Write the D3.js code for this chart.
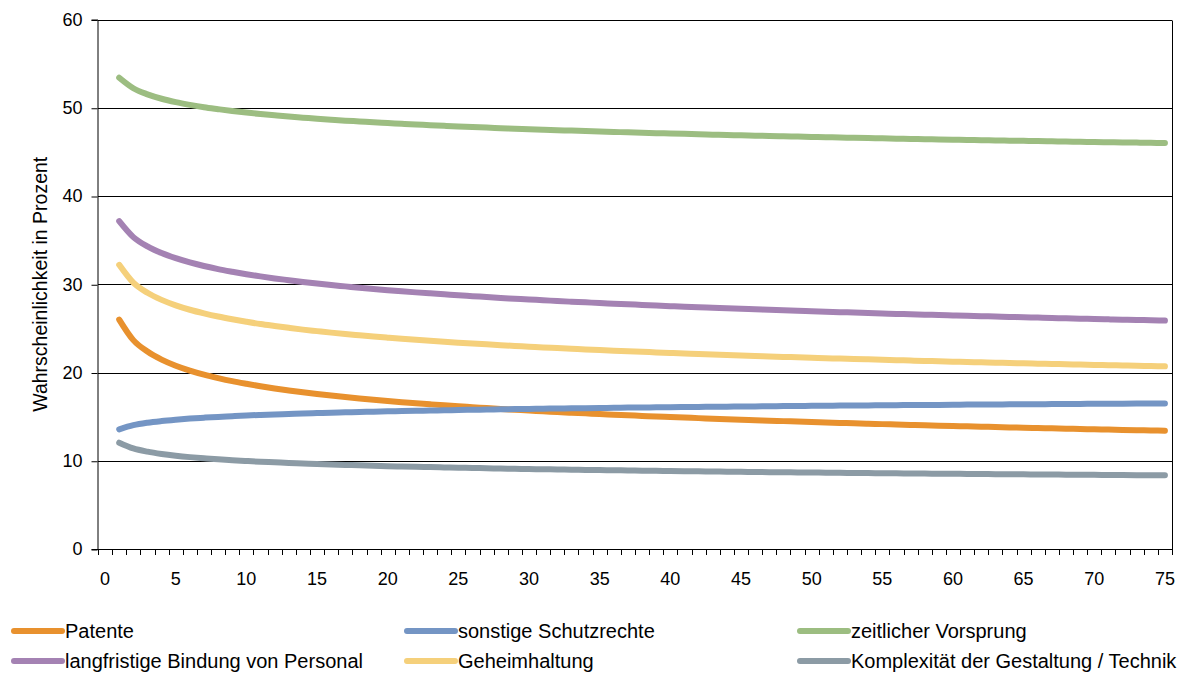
<!DOCTYPE html>
<html><head><meta charset="utf-8">
<script src="https://cdn.jsdelivr.net/npm/d3@7"></script>
<style>
html,body{margin:0;padding:0;background:#fff;}
svg text{font-family:"Liberation Sans",Arial,sans-serif;fill:#000;}
</style></head>
<body>
<svg id="chart" width="1191" height="675"></svg>
<script>
const categories = d3.range(0, 76);
const xTickLabels = [0,5,10,15,20,25,30,35,40,45,50,55,60,65,70,75];
const yTickLabels = [0,10,20,30,40,50,60];

const patente = [26.00,23.67,22.37,21.46,20.77,20.22,19.76,19.37,19.02,18.72,18.44,18.19,17.97,17.76,17.57,17.39,17.22,17.06,16.91,16.77,16.64,16.52,16.40,16.28,16.17,16.07,15.97,15.87,15.78,15.69,15.61,15.52,15.44,15.37,15.29,15.22,15.15,15.08,15.01,14.95,14.89,14.83,14.77,14.71,14.65,14.60,14.54,14.49,14.44,14.39,14.34,14.29,14.24,14.20,14.15,14.11,14.06,14.02,13.98,13.94,13.90,13.86,13.82,13.78,13.74,13.70,13.67,13.63,13.60,13.56,13.53,13.49,13.46,13.43,13.40];
const schutzrechte = [13.56,14.03,14.31,14.50,14.65,14.78,14.88,14.97,15.05,15.13,15.19,15.25,15.30,15.36,15.40,15.45,15.49,15.53,15.56,15.60,15.63,15.66,15.69,15.72,15.75,15.78,15.80,15.83,15.85,15.87,15.90,15.92,15.94,15.96,15.98,16.00,16.02,16.03,16.05,16.07,16.09,16.10,16.12,16.13,16.15,16.16,16.18,16.19,16.21,16.22,16.23,16.25,16.26,16.27,16.29,16.30,16.31,16.32,16.33,16.34,16.36,16.37,16.38,16.39,16.40,16.41,16.42,16.43,16.44,16.45,16.46,16.47,16.48,16.49,16.50];
const vorsprung = [53.40,52.21,51.52,51.02,50.64,50.33,50.06,49.84,49.63,49.45,49.29,49.14,49.00,48.88,48.76,48.65,48.54,48.45,48.35,48.27,48.18,48.10,48.03,47.95,47.88,47.82,47.75,47.69,47.63,47.57,47.51,47.46,47.41,47.36,47.31,47.26,47.21,47.17,47.12,47.08,47.04,46.99,46.95,46.91,46.88,46.84,46.80,46.76,46.73,46.69,46.66,46.63,46.59,46.56,46.53,46.50,46.47,46.44,46.41,46.38,46.35,46.33,46.30,46.27,46.25,46.22,46.19,46.17,46.14,46.12,46.09,46.07,46.05,46.02,46.00];
const personal = [37.15,35.34,34.28,33.53,32.95,32.47,32.07,31.72,31.42,31.14,30.89,30.66,30.46,30.26,30.08,29.91,29.76,29.61,29.47,29.33,29.20,29.08,28.97,28.86,28.75,28.65,28.55,28.45,28.36,28.27,28.19,28.10,28.02,27.95,27.87,27.80,27.73,27.66,27.59,27.52,27.46,27.39,27.33,27.27,27.21,27.16,27.10,27.05,26.99,26.94,26.89,26.84,26.79,26.74,26.69,26.64,26.60,26.55,26.51,26.46,26.42,26.38,26.34,26.30,26.25,26.22,26.18,26.14,26.10,26.06,26.02,25.99,25.95,25.92,25.88];
const geheim = [32.20,30.18,29.03,28.23,27.61,27.11,26.70,26.34,26.03,25.75,25.49,25.27,25.06,24.86,24.69,24.52,24.36,24.22,24.08,23.95,23.82,23.70,23.59,23.48,23.38,23.28,23.19,23.10,23.01,22.93,22.84,22.77,22.69,22.61,22.54,22.47,22.41,22.34,22.28,22.21,22.15,22.09,22.04,21.98,21.93,21.87,21.82,21.77,21.72,21.67,21.62,21.58,21.53,21.49,21.44,21.40,21.35,21.31,21.27,21.23,21.19,21.15,21.11,21.08,21.04,21.00,20.97,20.93,20.90,20.86,20.83,20.80,20.76,20.73,20.70];
const komplex = [12.05,11.40,11.03,10.77,10.57,10.41,10.28,10.16,10.06,9.97,9.89,9.82,9.75,9.69,9.63,9.58,9.53,9.48,9.44,9.39,9.35,9.32,9.28,9.24,9.21,9.18,9.15,9.12,9.09,9.06,9.04,9.01,8.99,8.96,8.94,8.92,8.90,8.88,8.86,8.84,8.82,8.80,8.78,8.76,8.74,8.73,8.71,8.69,8.68,8.66,8.65,8.63,8.62,8.60,8.59,8.57,8.56,8.55,8.53,8.52,8.51,8.50,8.48,8.47,8.46,8.45,8.44,8.42,8.41,8.40,8.39,8.38,8.37,8.36,8.35];

const seriesNames = ["Patente","sonstige Schutzrechte","zeitlicher Vorsprung","langfristige Bindung von Personal","Geheimhaltung","Komplexität der Gestaltung / Technik"];
const seriesValues = [patente, schutzrechte, vorsprung, personal, geheim, komplex];
const seriesColors = ["#E8912E","#7495C4","#9CBD81","#A482B3","#F5D07B","#8C9BA5"];

const svg = d3.select("#chart");
const L = 98, R = 1172, T = 19.5, B = 549;
const x = d3.scaleBand().domain(categories).range([L, R]).padding(0);
const y = d3.scaleLinear().domain([0, 60]).range([B, T]);
const bw = x.bandwidth();

// gridlines
svg.append("g").selectAll("line").data(yTickLabels.filter(v => v > 0)).join("line")
  .attr("x1", L).attr("x2", R)
  .attr("y1", d => Math.round(y(d)) + 0.5).attr("y2", d => Math.round(y(d)) + 0.5)
  .attr("stroke", "#000").attr("stroke-width", 1);
// right border
svg.append("line").attr("x1", R + 0.5).attr("x2", R + 0.5).attr("y1", Math.round(T) + 0.5).attr("y2", B)
  .attr("stroke", "#000");

// y axis
const yAxis = d3.axisLeft(y).tickValues(yTickLabels).tickSize(6).tickPadding(9);
const gy = svg.append("g").attr("transform", `translate(${L - 0.5},0)`).call(yAxis);
gy.select(".domain").attr("stroke", "#000");
gy.selectAll(".tick line").attr("stroke", "#000").attr("transform", "translate(0,0.5)");
gy.selectAll(".tick text").style("font-size", "18px").style("font-family", '"Liberation Sans",Arial,sans-serif').attr("fill", "#000");

// x axis: ticks at band boundaries
const gx = svg.append("g");
gx.append("line").attr("x1", L).attr("x2", R + 1).attr("y1", B + 0.5).attr("y2", B + 0.5).attr("stroke", "#000");
gx.selectAll("line.tk").data(d3.range(0, 77)).join("line").attr("class", "tk")
  .attr("x1", i => Math.round(L + i * bw) + 0.5).attr("x2", i => Math.round(L + i * bw) + 0.5)
  .attr("y1", B).attr("y2", B + 6).attr("stroke", "#000");
gx.selectAll("text").data(xTickLabels).join("text")
  .attr("x", d => x(d) + bw / 2).attr("y", B + 36)
  .attr("text-anchor", "middle").style("font-size", "18px").text(d => d);

// y title
svg.append("text").attr("transform", `translate(47,${(T + B) / 2}) rotate(-90)`)
  .attr("text-anchor", "middle").style("font-size", "19.5px").text("Wahrscheinlichkeit in Prozent");

// lines
const line = d3.line().x((d, i) => x(i + 1) + bw / 2).y(d => y(d)).curve(d3.curveMonotoneX);
svg.append("g").selectAll("path").data(seriesValues).join("path")
  .attr("d", d => line(d)).attr("fill", "none")
  .attr("stroke", (d, i) => seriesColors[i]).attr("stroke-width", 6)
  .attr("stroke-linecap", "round").attr("stroke-linejoin", "round");

// legend
const legX = [12, 405, 798], legY = [631, 661];
const leg = svg.append("g").selectAll("g").data(seriesNames).join("g")
  .attr("transform", (d, i) => `translate(${legX[i % 3]},${legY[Math.floor(i / 3)]})`);
leg.append("line").attr("x1", 2).attr("x2", 50).attr("y1", 0).attr("y2", 0)
  .attr("stroke", (d, i) => seriesColors[i]).attr("stroke-width", 6).attr("stroke-linecap", "round");
leg.append("text").attr("x", 53).attr("y", 7).style("font-size", "20px").text(d => d);
</script>
</body></html>
